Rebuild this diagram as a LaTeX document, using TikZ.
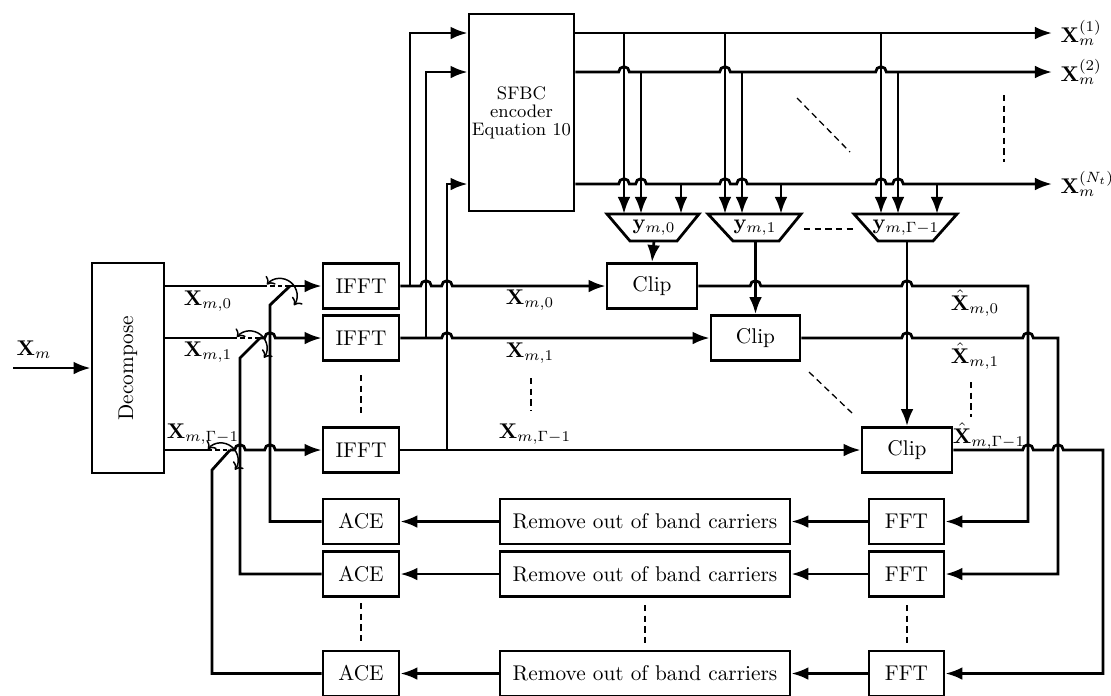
\documentclass[tikz,border=0pt]{standalone}
\usepackage{graphicx}
\usetikzlibrary{arrows.meta}
\newcommand{\pxu}{0.0165cm}
\newcommand{\hop}[2]{-- ([xshift=-2.5pt]#1,#2) arc[start angle=180,end angle=0,radius=2.5pt]}
\begin{document}
\begin{tikzpicture}[x=\pxu,y=-\pxu,>={Latex[length=8pt,width=6pt]},line width=1.3pt,
  blk/.style={draw,inner sep=0pt,minimum height=45*\pxu},
  dots/.style={line width=0.6pt,dash pattern=on 3pt off 2pt},
  swdash/.style={dash pattern=on 2pt off 1.5pt},
  swarc/.style={line width=0.7pt,{To[length=3pt,width=6pt]}-{To[length=3pt,width=6pt]}}]
  \useasboundingbox (0,0) rectangle (1111,695);
  % blocks
  \node[blk,minimum width=72*\pxu,minimum height=210*\pxu] (dec) at (128,368) {\rotatebox{90}{Decompose}};
  \node[blk,minimum width=105*\pxu,minimum height=197*\pxu,align=center,font=\fontsize{8.5}{8.5}\selectfont] (sfbc) at (521.5,112.5) {SFBC\\encoder\\Equation 10};
  \node[blk,minimum width=76*\pxu] (ifft0) at (361,286) {IFFT};
  \node[blk,minimum width=76*\pxu] (ifft1) at (361,338) {IFFT};
  \node[blk,minimum width=76*\pxu] (ifft2) at (361,450) {IFFT};
  \node[blk,minimum width=90*\pxu] (clip0) at (652,286) {Clip};
  \node[blk,minimum width=89*\pxu] (clip1) at (755.5,338) {Clip};
  \node[blk,minimum width=90*\pxu] (clip2) at (907,450) {Clip};
  \foreach \i/\y in {0/521.5,1/574,2/673.5} {
    \node[blk,minimum width=76*\pxu] (ace\i) at (361,\y) {ACE};
    \node[blk,minimum width=290*\pxu] (rem\i) at (645,\y) {Remove out of band carriers};
    \node[blk,minimum width=75*\pxu] (fft\i) at (906.5,\y) {FFT};
    \draw[->] (fft\i) -- (rem\i);
    \draw[->] (rem\i) -- (ace\i);
  }
  % trapezoids
  \draw (607,214) -- (699,214) -- (677,241) -- (630,241) -- cycle;
  \draw (708,214) -- (801,214) -- (779,241) -- (733,241) -- cycle;
  \draw (854,214) -- (957,214) -- (933,241) -- (878,241) -- cycle;
  \node (y0) at (654,228) {$\mathbf{y}_{m,0}$};
  \node (y1) at (755,228) {$\mathbf{y}_{m,1}$};
  \node (y2) at (906,228) {$\mathbf{y}_{m,\Gamma-1}$};
  % input
  \coordinate (xin) at (13,368);
  \node[anchor=south west,inner sep=1pt] (xinl) at (13,362) {$\mathbf{X}_m$};
  \draw[->] (xin) -- (dec);
  % switches
  \draw (dec.east |- 0,286) -- (263,286);
  \draw[swdash] (263,286) -- (290,286);
  \draw[->] (290,286) -- (ifft0.west);
  \draw (ace0.west) -| (270,305) -- (290,286);
  \draw[swarc] ([shift={(140:8pt)}]280,295.5) arc[start angle=140,end angle=-35,radius=8pt];
  \draw (dec.east |- 0,338) -- (233,338);
  \draw[swdash] (233,338) -- (260,338);
  \draw[->] (260,338) \hop{270}{338} -- (ifft1.west);
  \draw (ace1.west) -| (240,358) -- (260,338);
  \draw[swarc] ([shift={(140:8pt)}]250,348) arc[start angle=140,end angle=-35,radius=8pt];
  \draw (dec.east |- 0,450) -- (208,450);
  \draw[swdash] (208,450) -- (230,450);
  \draw[->] (230,450) \hop{240}{450} \hop{270}{450} -- (ifft2.west);
  \draw (ace2.west) -| (212,470) -- (230,450);
  \draw[swarc] ([shift={(140:8pt)}]221,460) arc[start angle=140,end angle=-35,radius=8pt];
  % IFFT outputs
  \draw[->] (ifft0.east) \hop{426}{286} \hop{447}{286} -- (clip0.west);
  \draw[->] (410,286) |- (sfbc.west |- 0,33);
  \draw[->] (ifft1.east) \hop{447}{338} -- (clip1.west);
  \draw[->] (426,338) |- (sfbc.west |- 0,72);
  \draw[->] (ifft2.east) -- (clip2.west);
  \draw[->] (447,450) |- (sfbc.west |- 0,184);
  % SFBC outputs
  \node[anchor=west] (o1) at (1052,33) {$\mathbf{X}_m^{(1)}$};
  \node[anchor=west] (o2) at (1052,72) {$\mathbf{X}_m^{(2)}$};
  \node[anchor=west] (o3) at (1052,184) {$\mathbf{X}_m^{(N_t)}$};
  \draw[->] (sfbc.east |- 0,33) -- (o1.west);
  \draw[->] (sfbc.east |- 0,72) \hop{624}{72} \hop{725}{72} \hop{881}{72} -- (o2.west);
  \draw[->] (sfbc.east |- 0,184) \hop{624}{184} \hop{641}{184} \hop{725}{184} \hop{742}{184}
    \hop{881}{184} \hop{898}{184} -- (o3.west);
  \foreach \xa/\xb/\xc in {624/641/681,725/742/781,881/898/937} {
    \draw[->] (\xa,33) -- (\xa,214);
    \draw[->] (\xb,72) -- (\xb,214);
    \draw[->] (\xc,184) -- (\xc,214);
  }
  \draw[->] (654,241) -- (clip0.north);
  \draw[->] (755.5,241) -- (clip1.north);
  \draw[->] (907,241) -- (clip2.north);
  % clip outputs
  \draw[->] (clip0.east) \hop{755.5}{286} \hop{907}{286} -- (1028,286) |- (fft0.east);
  \draw[->] (clip1.east) \hop{907}{338} \hop{1028}{338} -- (1058,338) |- (fft1.east);
  \draw[->] (clip2.east) \hop{1028}{450} \hop{1058}{450} -- (1103,450) |- (fft2.east);
  % labels
  \node (l0) at (208,301) {$\mathbf{X}_{m,0}$};
  \node (l1) at (208,352) {$\mathbf{X}_{m,1}$};
  \node (l2) at (203,434) {$\mathbf{X}_{m,\Gamma-1}$};
  \node (m0) at (530,300) {$\mathbf{X}_{m,0}$};
  \node (m1) at (530,353) {$\mathbf{X}_{m,1}$};
  \node (m2) at (535,434) {$\mathbf{X}_{m,\Gamma-1}$};
  \node[inner sep=1pt] (h0) at (975,303) {$\hat{\mathbf{X}}_{m,0}$};
  \node[inner sep=1pt] (h1) at (975,356) {$\hat{\mathbf{X}}_{m,1}$};
  \node[inner sep=1pt] (h2) at (989,436) {$\hat{\mathbf{X}}_{m,\Gamma-1}$};
  % dots
  \draw[dots] (361,375) -- (361,413);
  \draw[dots] (531,378) -- (531,410);
  \draw[dots] (971,382) -- (971,417);
  \draw[dots] (361,603) -- (361,642);
  \draw[dots] (645,605) -- (645,643);
  \draw[dots] (907,605) -- (907,643);
  \draw[dots] (1004,95) -- (1004,162);
  \draw[dots] (797,98) -- (850,152);
  \draw[dots] (809,372) -- (852,413);
  \draw[dots] (804,229) -- (854,229);
\end{tikzpicture}
\end{document}
